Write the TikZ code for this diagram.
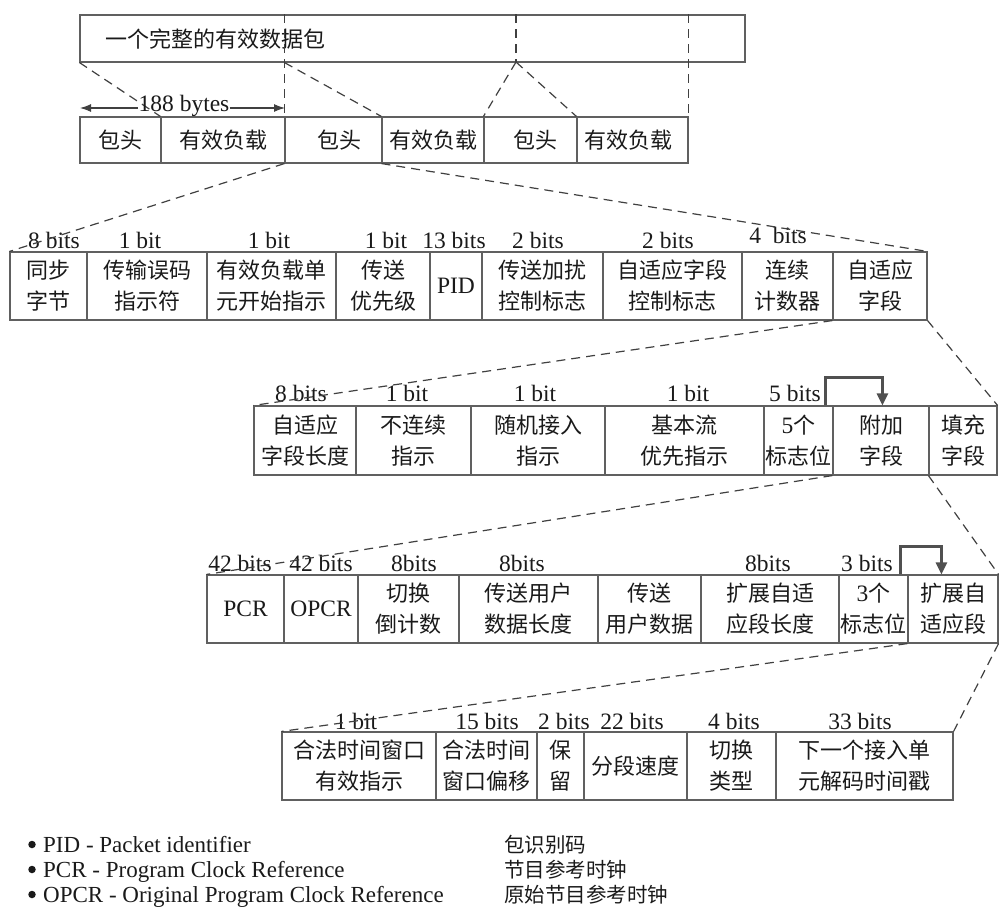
\documentclass[tikz,border=0pt]{standalone}
\usepackage{fontspec}
\setmainfont{Liberation Serif}
\newfontfamily\cjk{Noto Sans CJK SC}
\usetikzlibrary{arrows.meta}
\definecolor{boxgray}{HTML}{606060}
\definecolor{dashgray}{HTML}{404040}
\definecolor{brkgray}{HTML}{505050}
\definecolor{ink}{HTML}{1A1A1A}
\newcommand\cellat[6]{\node[cell, minimum width={#3pt-#2pt}, minimum height={#5pt-#4pt}] (#1) at ({(#2+#3)/2},{(#4+#5)/2}) {#6};}
\newcommand\bitlbl[4]{\node[bitsl] (#1) at (#2,#3) {#4};}
\tikzset{
  cell/.style={draw=boxgray, line width=1.1pt, text=ink, inner sep=0pt, align=center,
               font=\cjk\fontsize{22}{31}\selectfont},
  bitsl/.style={inner sep=0pt, text=ink, font=\rmfamily\fontsize{23.5}{26}\selectfont},
  dline/.style={draw=dashgray, line width=1.2pt, dash pattern=on 9pt off 6pt},
  brk/.style={draw=brkgray, line width=2.4pt, -{Triangle[length=12pt,width=11pt]}},
  legen/.style={anchor=base west, inner sep=0pt, text=ink, font=\rmfamily\fontsize{23}{26}\selectfont},
  legzh/.style={anchor=base west, inner sep=0pt, text=ink, font=\cjk\fontsize{20.5}{24}\selectfont},
  bulletdot/.style={circle, fill=ink, inner sep=0pt, minimum size=7.5pt},
}
\newcommand\lat{\rmfamily\fontsize{23.5}{26}\selectfont}
\begin{document}
\begin{tikzpicture}[x=1pt,y=-1pt]
\useasboundingbox (0,0) rectangle (999,914);
% top box
\cellat{top}{80}{745}{15}{62}{}
\node[anchor=west, inner sep=0pt, text=ink, font=\cjk\fontsize{22}{26}\selectfont] (toptext) at (105,39) {一个完整的有效数据包};
\coordinate (tmid) at (516,62);
% row 2
\cellat{r2a}{80}{161}{117}{163}{包头}
\cellat{r2b}{161}{285}{117}{163}{有效负载}
\cellat{r2c}{285}{382}{117}{163}{\hspace*{12pt}包头}
\cellat{r2d}{382}{484}{117}{163}{有效负载}
\cellat{r2e}{484}{577}{117}{163}{\hspace*{10pt}包头}
\cellat{r2f}{577}{688}{117}{163}{有效负载\hspace*{8pt}}
% dashed links top -> row 2
\draw[dline] (r2c.north west |- top.north) -- (r2c.north west);
\draw[dline] (r2f.north east |- top.north) -- (r2f.north east);
\draw[dline] (tmid |- top.north) -- (tmid);
\draw[dline] (top.south west) -- (r2b.north west);
\draw[dline] (r2c.north west |- top.south) -- (r2d.north west);
\draw[dline] (tmid) -- (r2e.north west);
\draw[dline] (tmid) -- (r2f.north west);
% 188 bytes
\coordinate (al) at (80,108);
\coordinate (ar) at (285,108);
\node[bitsl] (bytes) at (184,106) {188 bytes};
\draw[draw=dashgray, line width=1.1pt, {Latex[length=11pt,width=8pt]}-] (al) -- (bytes.west |- al);
\draw[draw=dashgray, line width=1.1pt, -{Latex[length=11pt,width=8pt]}] (bytes.east |- ar) -- (ar);
% row 3
\cellat{r3a}{10}{87}{252}{320}{同步\\字节}
\cellat{r3b}{87}{207}{252}{320}{传输误码\\指示符}
\cellat{r3c}{207}{336}{252}{320}{有效负载单\\元开始指示}
\cellat{r3d}{336}{430}{252}{320}{传送\\优先级}
\cellat{r3e}{430}{482}{252}{320}{\lat PID}
\cellat{r3f}{482}{603}{252}{320}{传送加扰\\控制标志}
\cellat{r3g}{603}{742}{252}{320}{自适应字段\\控制标志}
\cellat{r3h}{742}{833}{252}{320}{连续\\计数器}
\cellat{r3i}{833}{927}{252}{320}{自适应\\字段}
\bitlbl{l3a}{54}{240}{8 bits}
\bitlbl{l3b}{140}{240}{1 bit}
\bitlbl{l3c}{269}{240}{1 bit}
\bitlbl{l3d}{386}{240}{1 bit}
\bitlbl{l3e}{454}{240}{13 bits}
\bitlbl{l3f}{538}{240}{2 bits}
\bitlbl{l3g}{668}{240}{2 bits}
\bitlbl{l3h}{778}{235}{4\ \ bits}
\draw[dline] (r2c.south west) -- (r3a.north west);
\draw[dline] (r2d.south west) -- (r3i.north east);
% row 4
\cellat{r4a}{254}{356}{406}{475}{自适应\\字段长度}
\cellat{r4b}{356}{471}{406}{475}{不连续\\指示}
\cellat{r4c}{471}{605}{406}{475}{随机接入\\指示}
\cellat{r4d}{605}{764}{406}{475}{基本流\\优先指示}
\cellat{r4e}{764}{833}{406}{475}{{\lat 5}个\\标志位}
\cellat{r4f}{833}{929}{406}{475}{附加\\字段}
\cellat{r4g}{929}{997}{406}{475}{填充\\字段}
\bitlbl{l4a}{301}{393}{8 bits}
\bitlbl{l4b}{407}{393}{1 bit}
\bitlbl{l4c}{535}{393}{1 bit}
\bitlbl{l4d}{688}{393}{1 bit}
\bitlbl{l4e}{795}{393}{5 bits}
\draw[dline] (r3i.south west) -- (r4a.north west);
\draw[dline] (r3i.south east) -- (r4g.north east);
\draw[brk] ([xshift=-7pt]r4f.north west) -- ++(0,-28) -| ([xshift=50pt]r4f.north west);
% row 5
\cellat{r5a}{207}{284}{575}{643}{\lat PCR}
\cellat{r5b}{284}{358}{575}{643}{\lat OPCR}
\cellat{r5c}{358}{459}{575}{643}{切换\\倒计数}
\cellat{r5d}{459}{598}{575}{643}{传送用户\\数据长度}
\cellat{r5e}{598}{701}{575}{643}{传送\\用户数据}
\cellat{r5f}{701}{839}{575}{643}{扩展自适\\应段长度}
\cellat{r5g}{839}{908}{575}{643}{{\lat 3}个\\标志位}
\cellat{r5h}{908}{998}{575}{643}{扩展自\\适应段}
\bitlbl{l5a}{240}{563}{42 bits}
\bitlbl{l5b}{321}{563}{42 bits}
\bitlbl{l5c}{414}{563}{8bits}
\bitlbl{l5d}{522}{563}{8bits}
\bitlbl{l5f}{768}{563}{8bits}
\bitlbl{l5g}{867}{563}{3 bits}
\draw[dline] (r4f.south west) -- (r5a.north west);
\draw[dline] (r4g.south west) -- (r5h.north east);
\draw[brk] ([xshift=-7pt]r5h.north west) -- ++(0,-28) -| ([xshift=34pt]r5h.north west);
% row 6
\cellat{r6a}{282}{436}{732}{800}{合法时间窗口\\有效指示}
\cellat{r6b}{436}{537}{732}{800}{合法时间\\窗口偏移}
\cellat{r6c}{537}{584}{732}{800}{保\\留}
\cellat{r6d}{584}{687}{732}{800}{分段速度}
\cellat{r6e}{687}{776}{732}{800}{切换\\类型}
\cellat{r6f}{776}{953}{732}{800}{下一个接入单\\元解码时间戳}
\bitlbl{l6a}{356}{721}{1 bit}
\bitlbl{l6b}{487}{721}{15 bits}
\bitlbl{l6c}{564}{721}{2 bits}
\bitlbl{l6d}{632}{721}{22 bits}
\bitlbl{l6e}{734}{721}{4 bits}
\bitlbl{l6f}{860}{721}{33 bits}
\draw[dline] (r5h.south west) -- (r6a.north west);
\draw[dline] (r5h.south east) -- (r6f.north east);
% legend
\foreach \n/\yy/\en/\zh in {a/852/{PID - Packet identifier}/{包识别码},
                            b/877/{PCR - Program Clock Reference}/{节目参考时钟},
                            c/902/{OPCR - Original Program Clock Reference}/{原始节目参考时钟}} {
  \node[bulletdot] (bul\n) at (32,\yy-7.5) {};
  \node[legen] (en\n) at (43,\yy) {\en};
  \node[legzh] (zh\n) at (504,\yy) {\zh};
}
\end{tikzpicture}
\end{document}
